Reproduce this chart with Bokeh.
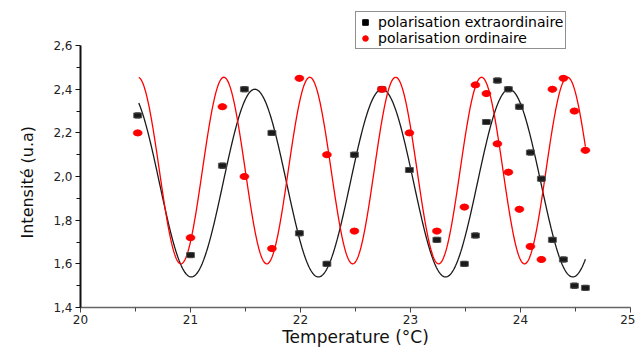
import numpy as np
from bokeh.plotting import figure
from bokeh.models import Range1d, Legend, LegendItem, FixedTicker, CustomJSTickFormatter, Title
from bokeh.embed import file_html
from bokeh.resources import INLINE

# Data
temp_ext = [20.52, 21.00, 21.29, 21.49, 21.74, 21.99, 22.24, 22.49, 22.74, 22.99, 23.24, 23.49,
            23.59, 23.69, 23.79, 23.89, 23.99, 24.09, 24.19, 24.29, 24.39, 24.49, 24.59]
int_ext = [2.28, 1.64, 2.05, 2.40, 2.20, 1.74, 1.60, 2.10, 2.40, 2.03, 1.71, 1.60,
           1.73, 2.25, 2.44, 2.40, 2.32, 2.11, 1.99, 1.71, 1.62, 1.50, 1.49]
temp_ord = [20.52, 21.00, 21.29, 21.49, 21.74, 21.99, 22.24, 22.49, 22.74, 22.99, 23.24, 23.49,
            23.59, 23.69, 23.79, 23.89, 23.99, 24.09, 24.19, 24.29, 24.39, 24.49, 24.59]
int_ord = [2.20, 1.72, 2.32, 2.00, 1.67, 2.45, 2.10, 1.75, 2.40, 2.20, 1.75, 1.86,
           2.42, 2.38, 2.15, 2.02, 1.85, 1.68, 1.62, 2.40, 2.45, 2.30, 2.12]

# Sinusoidal fit parameters (offset, amplitude, period, position of a maximum)
fit_ext = dict(y0=1.97, amp=0.43, period=1.156, xmax=21.585)
fit_ord = dict(y0=2.0275, amp=0.4275, period=0.781, xmax=21.303)
fit_start, fit_end = 20.53, 24.59

x_ticks = [20, 21, 22, 23, 24, 25]
x_minor = [20.5, 21.5, 22.5, 23.5, 24.5]
y_ticks = [1.4, 1.6, 1.8, 2.0, 2.2, 2.4, 2.6]
y_minor = [1.5, 1.7, 1.9, 2.1, 2.3, 2.5]

legend_labels = ["polarisation extraordinaire", "polarisation ordinaire"]


def fit_curve(par):
    xs = np.linspace(fit_start, fit_end, 600)
    ys = par["y0"] + par["amp"] * np.cos(2 * np.pi * (xs - par["xmax"]) / par["period"])
    return xs, ys


FONT = "DejaVu Sans"

# the frame reaches above 2.6 so that the legend (which overlaps the top) is not clipped;
# the axis itself is bounded to 1.4 .. 2.6
p = figure(width=635, height=349, output_backend="svg", toolbar_location=None,
           x_range=Range1d(20, 25), y_range=Range1d(1.4, 2.77),
           min_border_left=80, min_border_top=8, min_border_right=5, min_border_bottom=0)
p.outline_line_color = None
p.xgrid.grid_line_color = None
p.ygrid.grid_line_color = None
p.background_fill_color = "white"
p.border_fill_color = "white"
p.yaxis.bounds = (1.4, 2.6)

xe, ye = fit_curve(fit_ext)
xo, yo = fit_curve(fit_ord)
p.line(xe, ye, line_color="#1a1a1a", line_width=1.3)
p.line(xo, yo, line_color="#ff0000", line_width=1.3)

# small markers (hidden under the wide ones) that also serve as legend glyphs
lg_sq = p.scatter(temp_ext, int_ext, marker="square", size=5, fill_color="#000000", line_color="#000000")
lg_ci = p.scatter(temp_ord, int_ord, marker="circle", size=6, fill_color="#ff0000", line_color="#ff0000")

p.rect(temp_ext, int_ext, width=8, height=5, width_units="screen", height_units="screen",
       fill_color="#1a1a1a", line_color="#555555", line_width=0.8)
p.ellipse(temp_ord, int_ord, width=9, height=6, width_units="screen", height_units="screen",
          fill_color="#ff0000", line_color="#ff0000", line_width=0.5)

legend = Legend(items=[LegendItem(label=legend_labels[0], renderers=[lg_sq]),
                       LegendItem(label=legend_labels[1], renderers=[lg_ci])],
                location=(275, 258), margin=0, padding=2, spacing=0,
                glyph_width=14, glyph_height=16, label_height=16, label_standoff=6,
                label_text_font=FONT, label_text_font_size="14px", label_text_color="#000000",
                border_line_color="#222222", border_line_width=1,
                background_fill_color="white", background_fill_alpha=1.0)
p.add_layout(legend, "center")

p.xaxis.ticker = FixedTicker(ticks=x_ticks, minor_ticks=x_minor)
p.yaxis.ticker = FixedTicker(ticks=y_ticks, minor_ticks=y_minor)
p.yaxis.formatter = CustomJSTickFormatter(code="return tick.toFixed(1).replace('.', ',');")
p.xaxis.formatter = CustomJSTickFormatter(code="return tick.toFixed(0);")

for ax in (p.xaxis, p.yaxis):
    ax.major_tick_in = 0
    ax.minor_tick_in = 0
    ax.major_tick_out = 5
    ax.minor_tick_out = 4
    ax.major_label_text_font = FONT
    ax.major_label_text_font_size = "12px"
    ax.major_label_text_color = "#222222"
    ax.axis_label_text_font = FONT
    ax.axis_label_text_font_size = "17px"
    ax.axis_label_text_font_style = "normal"
    ax.axis_label_text_color = "#111111"

p.yaxis.axis_line_color = "#111111"
p.yaxis.axis_line_width = 2
p.yaxis.major_tick_line_color = "#111111"
p.yaxis.minor_tick_line_color = "#111111"
p.xaxis.axis_line_color = "#666666"
p.xaxis.axis_line_width = 1.5
p.xaxis.major_tick_line_color = "#444444"
p.xaxis.minor_tick_line_color = "#444444"

p.xaxis.axis_label = "Temperature (°C)"
p.xaxis.major_label_standoff = 2
p.xaxis.axis_label_standoff = 0
p.yaxis.major_label_standoff = 3

# y-axis title as a side title so that it can be centred on the 1.4 .. 2.6 span
ytitle = Title(text="Intensité (u.a)", align="left", vertical_align="top", offset=69, standoff=24,
               text_font=FONT, text_font_size="16px", text_font_style="normal",
               text_color="#111111")
p.add_layout(ytitle, "left")

open("out.html", "w").write(file_html(p, INLINE))
